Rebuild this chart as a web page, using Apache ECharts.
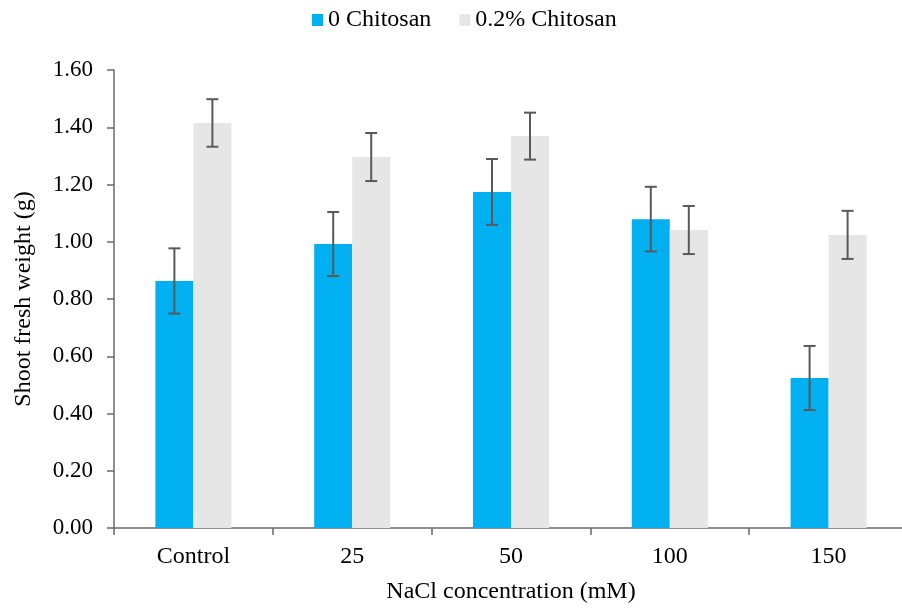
<!DOCTYPE html>
<html>
<head>
<meta charset="utf-8">
<script src="https://cdn.jsdelivr.net/npm/echarts@6/dist/echarts.min.js"></script>
<style>html,body{margin:0;padding:0;background:#fff}#c{width:902px;height:608px}</style>
</head>
<body>
<div id="c"></div>
<script>
const categories = ['Control', '25', '50', '100', '150'];
const seriesNames = ['0 Chitosan', '0.2% Chitosan'];
const noChitosan = [0.863, 0.992, 1.174, 1.079, 0.524];
const noChitosanErr = [0.114, 0.112, 0.115, 0.113, 0.112];
const chitosan = [1.415, 1.296, 1.369, 1.041, 1.024];
const chitosanErr = [0.083, 0.084, 0.082, 0.084, 0.084];

const FONT = 'Liberation Serif';
const BAR_W = 38;
const AXIS_COLOR = '#6a6a6a';
const ERR_COLOR = '#595959';

function errData(vals, errs) {
  return vals.map((v, i) => [i, v - errs[i], v + errs[i]]);
}
function errSeries(vals, errs, offset) {
  return {
    type: 'custom',
    z: 10,
    silent: true,
    data: errData(vals, errs),
    encode: { x: 0, y: [1, 2] },
    renderItem: function (params, api) {
      const idx = api.value(0);
      const lo = api.coord([idx, api.value(1)]);
      const hi = api.coord([idx, api.value(2)]);
      const x = lo[0] + offset;
      const cap = 6;
      const style = { stroke: ERR_COLOR, lineWidth: 2 };
      return {
        type: 'group',
        children: [
          { type: 'line', shape: { x1: x, y1: hi[1], x2: x, y2: lo[1] }, style: style },
          { type: 'line', shape: { x1: x - cap, y1: hi[1], x2: x + cap, y2: hi[1] }, style: style },
          { type: 'line', shape: { x1: x - cap, y1: lo[1], x2: x + cap, y2: lo[1] }, style: style }
        ]
      };
    }
  };
}

const chart = echarts.init(document.getElementById('c'), null, { renderer: 'canvas' });
chart.setOption({
  animation: false,
  backgroundColor: '#ffffff',
  textStyle: { fontFamily: FONT },
  legend: {
    data: seriesNames,
    left: 307,
    top: 3,
    itemWidth: 11,
    itemHeight: 12,
    itemGap: 28,
    icon: 'rect',
    textStyle: { fontFamily: FONT, fontSize: 24, color: '#000' }
  },
  grid: { left: 114, right: -6, top: 70, bottom: 80, containLabel: false, outerBoundsMode: 'none' },
  xAxis: {
    type: 'category',
    data: categories,
    name: 'NaCl concentration (mM)',
    nameLocation: 'middle',
    nameGap: 52,
    nameTextStyle: { fontFamily: FONT, fontSize: 24, color: '#000' },
    axisLine: { lineStyle: { color: AXIS_COLOR, width: 1.5 } },
    axisTick: { show: true, alignWithLabel: false, interval: 0, length: 7, lineStyle: { color: AXIS_COLOR, width: 1.5 } },
    axisLabel: { fontFamily: FONT, fontSize: 24, color: '#000', margin: 17, interval: 0 },
    splitLine: { show: false }
  },
  yAxis: {
    type: 'value',
    min: 0,
    max: 1.6,
    interval: 0.2,
    name: 'Shoot fresh weight (g)',
    nameLocation: 'middle',
    nameGap: 78,
    nameRotate: 90,
    nameTextStyle: { fontFamily: FONT, fontSize: 24, color: '#000' },
    axisLine: { show: true, lineStyle: { color: AXIS_COLOR, width: 1.5 } },
    axisTick: { show: true, length: 7, lineStyle: { color: AXIS_COLOR, width: 1.5 } },
    axisLabel: { fontFamily: FONT, fontSize: 23, color: '#000', margin: 21, formatter: v => v.toFixed(2) },
    splitLine: { show: false }
  },
  series: [
    { name: seriesNames[0], type: 'bar', data: noChitosan, barWidth: BAR_W, barGap: '0%', itemStyle: { color: '#00B0F0' } },
    { name: seriesNames[1], type: 'bar', data: chitosan, barWidth: BAR_W, barGap: '0%', itemStyle: { color: '#E6E6E6' } },
    errSeries(noChitosan, noChitosanErr, -BAR_W / 2),
    errSeries(chitosan, chitosanErr, BAR_W / 2)
  ]
});
</script>
</body>
</html>
